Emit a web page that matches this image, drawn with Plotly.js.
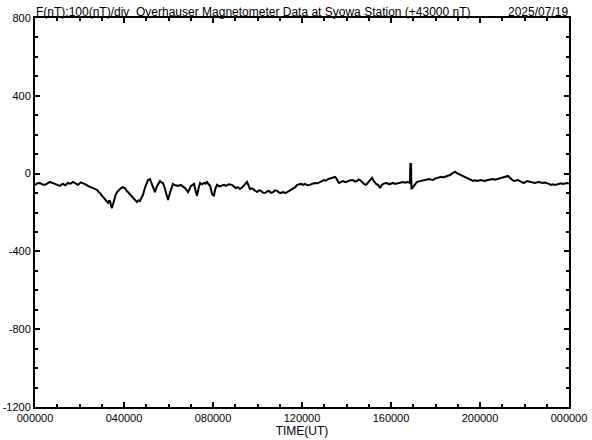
<!DOCTYPE html>
<html>
<head>
<meta charset="utf-8">
<script src="https://cdn.plot.ly/plotly-3.0.1.min.js"></script>
<style>html,body{margin:0;padding:0;background:#fff;}#chart{width:592px;height:440px;}</style>
</head>
<body>
<div id="chart"></div>
<script>
// Time in hours (UT), F deviation in nT (offset +43000 nT)
const timeHours = [0.00,0.10,0.22,0.32,0.45,0.55,0.67,0.78,0.90,1.00,1.12,1.20,1.26,1.36,1.48,1.60,1.71,1.82,1.93,2.05,2.16,2.27,2.38,2.50,2.61,2.70,2.79,2.86,2.92,3.00,3.06,3.12,3.19,3.24,3.28,3.33,3.37,3.42,3.46,3.50,3.55,3.62,3.69,3.75,3.82,3.93,4.04,4.10,4.18,4.28,4.40,4.50,4.58,4.65,4.72,4.78,4.85,4.95,5.08,5.17,5.26,5.32,5.39,5.46,5.53,5.62,5.68,5.75,5.82,5.89,5.98,6.05,6.11,6.20,6.30,6.43,6.55,6.65,6.75,6.88,6.95,7.01,7.08,7.15,7.20,7.28,7.35,7.42,7.50,7.60,7.66,7.73,7.80,7.87,7.96,8.04,8.10,8.18,8.28,8.40,8.50,8.58,8.70,8.85,8.95,9.03,9.12,9.21,9.30,9.39,9.46,9.53,9.60,9.66,9.75,9.84,9.92,9.98,10.07,10.16,10.25,10.34,10.43,10.52,10.61,10.70,10.79,10.88,10.97,11.06,11.15,11.24,11.33,11.42,11.51,11.60,11.70,11.78,11.87,11.96,12.05,12.13,12.25,12.36,12.47,12.58,12.70,12.81,12.90,12.99,13.08,13.17,13.26,13.35,13.42,13.48,13.53,13.57,13.62,13.66,13.75,13.84,13.95,14.07,14.18,14.29,14.38,14.47,14.54,14.61,14.68,14.74,14.81,14.88,14.97,15.06,15.10,15.15,15.22,15.28,15.35,15.42,15.46,15.51,15.57,15.64,15.73,15.82,15.91,16.00,16.09,16.18,16.27,16.36,16.45,16.54,16.63,16.72,16.80,16.85,16.87,16.90,16.92,16.94,17.03,17.10,17.17,17.26,17.35,17.44,17.53,17.62,17.71,17.80,17.89,17.98,18.07,18.16,18.25,18.34,18.43,18.52,18.61,18.68,18.74,18.81,18.88,18.94,19.01,19.08,19.15,19.24,19.33,19.42,19.51,19.60,19.69,19.78,19.87,19.96,20.04,20.13,20.22,20.31,20.40,20.49,20.58,20.67,20.76,20.85,20.94,21.03,21.12,21.19,21.26,21.33,21.39,21.46,21.53,21.62,21.71,21.78,21.84,21.91,21.98,22.05,22.11,22.20,22.29,22.38,22.47,22.56,22.65,22.74,22.83,22.92,23.01,23.10,23.19,23.28,23.37,23.46,23.55,23.64,23.73,23.82,23.91,24.00];
const fValues = [-58,-50,-48,-55,-58,-50,-43,-48,-53,-58,-63,-56,-53,-60,-48,-52,-43,-50,-58,-45,-48,-55,-63,-68,-74,-80,-84,-95,-100,-112,-120,-128,-136,-145,-151,-140,-141,-165,-177,-160,-136,-110,-95,-85,-79,-70,-74,-85,-95,-110,-126,-135,-146,-138,-141,-125,-110,-70,-33,-28,-53,-75,-95,-70,-53,-38,-45,-48,-70,-95,-136,-105,-84,-53,-60,-63,-58,-69,-75,-95,-75,-63,-58,-53,-80,-115,-75,-48,-55,-48,-52,-43,-55,-63,-105,-115,-80,-58,-66,-63,-58,-63,-55,-58,-68,-74,-70,-79,-72,-63,-52,-43,-65,-79,-76,-84,-90,-95,-86,-89,-98,-100,-92,-89,-99,-95,-86,-89,-97,-100,-94,-100,-95,-89,-85,-79,-70,-58,-55,-53,-58,-53,-60,-58,-52,-48,-50,-43,-38,-33,-36,-28,-25,-22,-20,-17,-22,-28,-40,-48,-42,-38,-44,-38,-34,-33,-41,-38,-30,-33,-42,-48,-55,-58,-45,-38,-28,-22,-38,-48,-55,-58,-68,-74,-60,-53,-50,-48,-55,-53,-48,-53,-50,-48,-45,-43,-47,-43,-45,-48,50,50,-77,-77,-63,-50,-43,-40,-38,-35,-33,-30,-28,-31,-33,-26,-22,-20,-17,-20,-17,-14,-12,-6,0,5,10,4,0,-3,-5,-10,-17,-22,-28,-33,-38,-35,-38,-35,-33,-36,-38,-34,-33,-30,-28,-31,-28,-25,-22,-20,-17,-14,-12,-20,-28,-33,-38,-35,-33,-38,-43,-46,-48,-42,-38,-41,-43,-46,-48,-45,-43,-46,-48,-46,-48,-53,-58,-55,-58,-55,-53,-50,-53,-50,-48,-53];

const xTickVals = [0,4,8,12,16,20,24];
const xTickText = ["000000","040000","080000","120000","160000","200000","000000"];
const yTickVals = [800,400,0,-400,-800,-1200];
const yTickText = ["800","400","0","-400","-800","-1200"];

const titleText = "F(nT):100(nT)/div  Overhauser Magnetometer Data at Syowa Station (+43000 nT)";
const dateText = "2025/07/19";
const xTitle = "TIME(UT)";

const fontFam = "Liberation Sans, Arial, sans-serif";

const trace = {
  x: timeHours, y: fValues, type: 'scatter', mode: 'lines',
  line: {color: '#000', width: 2}, hoverinfo: 'skip'
};

const layout = {
  width: 592, height: 440,
  margin: {l: 35, r: 23, t: 18, b: 33, pad: 0},
  paper_bgcolor: '#fff', plot_bgcolor: '#fff',
  showlegend: false,
  font: {family: fontFam, color: '#000', size: 11},
  xaxis: {
    range: [0, 24], tickmode: 'array', tickvals: xTickVals, ticktext: xTickText,
    ticks: 'inside', ticklen: 5, tickwidth: 2, tickcolor: '#000',
    minor: {dtick: 1, tick0: 0, ticks: 'inside', ticklen: 3, tickwidth: 2, tickcolor: '#000', showgrid: false},
    showline: true, linewidth: 2, linecolor: '#000', mirror: 'allticks',
    showgrid: false, zeroline: false, fixedrange: true,
    tickfont: {family: fontFam, size: 11, color: '#000'},
    title: {text: xTitle, font: {family: fontFam, size: 12, color: '#000'}, standoff: 2}
  },
  yaxis: {
    range: [-1200, 800], tickmode: 'array', tickvals: yTickVals, ticktext: yTickText,
    ticks: 'inside', ticklen: 5, tickwidth: 2, tickcolor: '#000',
    minor: {dtick: 100, tick0: 0, ticks: 'inside', ticklen: 3, tickwidth: 2, tickcolor: '#000', showgrid: false},
    showline: true, linewidth: 2, linecolor: '#000', mirror: 'allticks',
    showgrid: false, zeroline: false, fixedrange: true,
    tickfont: {family: fontFam, size: 11, color: '#000'}
  },
  annotations: [
    {text: titleText, xref: 'paper', yref: 'paper', x: 0, y: 1, xanchor: 'left', yanchor: 'bottom',
     showarrow: false, font: {family: fontFam, size: 12, color: '#000'}, borderpad: 0, yshift: -2},
    {text: dateText, xref: 'paper', yref: 'paper', x: 1, y: 1, xanchor: 'right', yanchor: 'bottom',
     showarrow: false, font: {family: fontFam, size: 12, color: '#000'}, borderpad: 0, yshift: -2}
  ]
};

Plotly.newPlot('chart', [trace], layout, {displayModeBar: false, staticPlot: true});
</script>
</body>
</html>
